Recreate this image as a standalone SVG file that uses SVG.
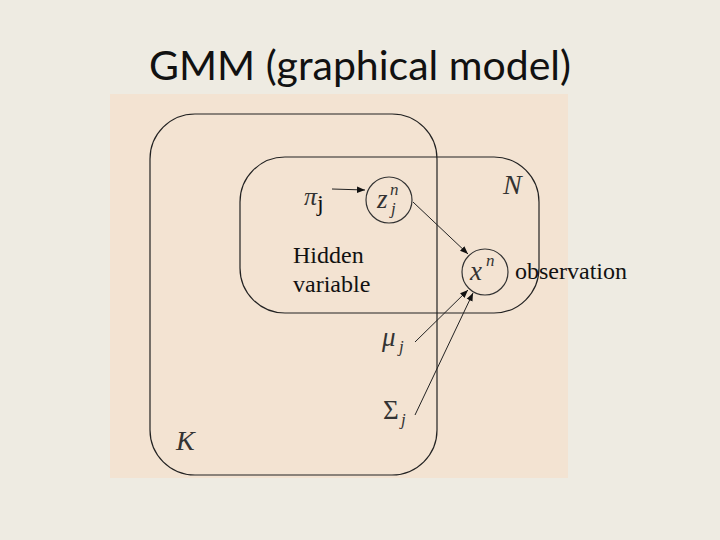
<svg xmlns="http://www.w3.org/2000/svg" width="720" height="540" viewBox="0 0 720 540">
<style>
.plate{fill:none;stroke:#222;stroke-width:1.2}
.node{fill:none;stroke:#333;stroke-width:1.2}
.edge{stroke:#222;stroke-width:1;fill:none}
.m{font-family:'Liberation Serif','DejaVu Serif','Times New Roman',serif;font-style:italic;fill:#333}
.u{font-family:'Liberation Serif','DejaVu Serif','Times New Roman',serif;fill:#333}
.t{font-family:'Liberation Serif','DejaVu Serif','Times New Roman',serif;fill:#111;font-size:24px}
</style>
<defs>
<marker id="ah" viewBox="0 0 10 10" refX="10" refY="5" markerWidth="8" markerHeight="8" orient="auto" markerUnits="userSpaceOnUse">
<path d="M0,1 L10,5 L0,9 z" fill="#111"/>
</marker>
</defs>
<rect width="720" height="540" fill="#eeebe2"/>
<text x="360" y="80" text-anchor="middle" font-family="Lato,'Open Sans',sans-serif" font-size="41" fill="#111">GMM (graphical model)</text>
<rect x="110" y="94" width="458" height="384" fill="#f3e3d2"/>
<g id="plateK"><rect class="plate" x="150" y="114" width="287" height="361" rx="45"/><text class="m" x="176" y="450" font-size="28">K</text></g>
<g id="plateN"><rect class="plate" x="240" y="157" width="299" height="156" rx="45"/><text class="m" x="503" y="194" font-size="28">N</text></g>
<g id="z"><circle class="node" cx="389" cy="200" r="23"/><text class="m" x="377" y="208" font-size="27">z</text><text class="m" x="390" y="195" font-size="17">n</text><text class="m" x="391" y="214" font-size="17">j</text></g>
<g id="x"><circle class="node" cx="485" cy="272" r="23"/><text class="m" x="470" y="280" font-size="27">x</text><text class="m" x="486" y="266" font-size="17">n</text></g>
<g id="pi"><text class="m" x="304" y="205" font-size="26">π</text><text class="t" x="317" y="211" font-size="14">j</text></g>
<g id="mu"><text class="m" x="382" y="346" font-size="27">μ</text><text class="m" x="399" y="352" font-size="17">j</text></g>
<g id="sigma"><text class="u" x="383" y="419" font-size="27">Σ</text><text class="m" x="401" y="425" font-size="17">j</text></g>
<g id="labels">
<text class="t" x="293" y="263">Hidden</text>
<text class="t" x="293" y="292">variable</text>
<text class="t" x="515" y="279">observation</text>
</g>
<g id="connectors">
<line class="edge" x1="332" y1="189" x2="365" y2="190" stroke-width="1.5" marker-end="url(#ah)"/>
<line class="edge" x1="413" y1="202" x2="468" y2="254" marker-end="url(#ah)"/>
<line class="edge" x1="415" y1="342" x2="468" y2="290" marker-end="url(#ah)"/>
<line class="edge" x1="415" y1="415" x2="473" y2="293" marker-end="url(#ah)"/>
</g>
</svg>
